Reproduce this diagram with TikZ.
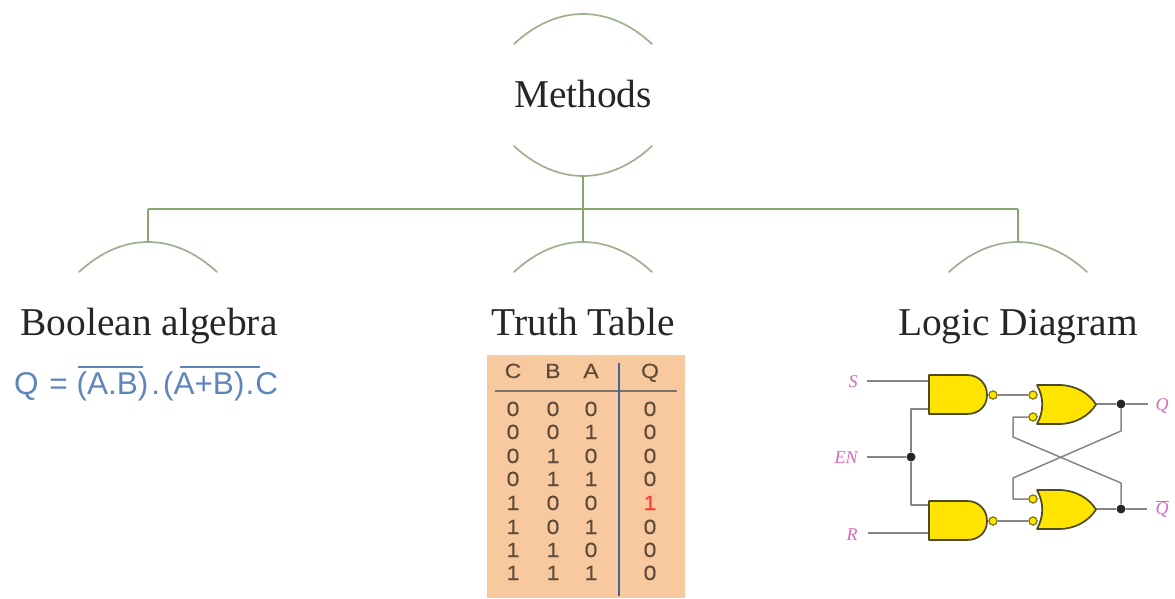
\documentclass[tikz,border=0pt]{standalone}
\usepackage{fontspec}
\setmainfont{Liberation Serif}
\setsansfont{Liberation Sans}
\newfontfamily\widesans[FakeStretch=1.12,FakeBold=0.4]{Liberation Sans}
\definecolor{arcgreen}{HTML}{9DB08F}
\definecolor{treegreen}{HTML}{86A86F}
\definecolor{tablebg}{HTML}{F8C99E}
\definecolor{tabletext}{HTML}{5E4A3A}
\definecolor{tablerule}{HTML}{7D7468}
\definecolor{tableblue}{HTML}{3F62A8}
\definecolor{formulablue}{HTML}{5F86BC}
\definecolor{gateyellow}{HTML}{FFE400}
\definecolor{gateedge}{HTML}{4E4A20}
\definecolor{wiregray}{HTML}{858585}
\definecolor{pinmagenta}{HTML}{D868B8}
\tikzset{
  x=1pt,y=-1pt,
  arcline/.style={draw=arcgreen,line width=1.7pt,line cap=round},
  treeline/.style={draw=treegreen,line width=1.8pt},
  heading/.style={font=\fontsize{39.4}{44}\selectfont,text=black!85,inner sep=0pt,anchor=base},
  cell/.style={font=\widesans\fontsize{20.5}{22}\selectfont,text=tabletext,inner sep=0pt,anchor=base},
  gatebody/.style={fill=gateyellow,draw=gateedge,line width=1.7pt,line join=round},
  bubble/.style={circle,fill=gateyellow,draw=gateedge!70!gateyellow,line width=1.1pt,minimum size=8pt,inner sep=0pt},
  wire/.style={draw=wiregray,line width=1.5pt,line join=round},
  junction/.style={circle,fill=black!85,minimum size=9pt,inner sep=0pt},
  pinlabel/.style={font=\itshape\fontsize{18}{20}\selectfont,text=pinmagenta,inner sep=0pt},
}
\newcommand{\uparc}[1]{\draw[arcline,shift={(#1)}] (-69,30) .. controls (-26,-10) and (26,-10) .. (69,30);}
\newcommand{\nandgate}[2]{\draw[gatebody,shift={(#1,#2)}] (0,0) -- (38,0) .. controls (50,0) and (58,9) .. (58,20) .. controls (58,31) and (50,39) .. (38,39) -- (0,39) -- cycle;}
\newcommand{\orgate}[2]{\draw[gatebody,shift={(#1,#2)}] (0,0) -- (22,0) .. controls (38,0) and (52,8) .. (59,19.5) .. controls (52,31) and (38,39) .. (22,39) -- (0,39) .. controls (7,26) and (7,13) .. cycle;}
\begin{document}
\begin{tikzpicture}
\useasboundingbox (0,0) rectangle (1175,599);
% tree
\coordinate (mtop) at (583,14);
\coordinate (mbot) at (583,175);
\coordinate (lcap) at (148,242);
\coordinate (ccap) at (583,242);
\coordinate (rcap) at (1018,242);
\coordinate (hub) at (583,209);
\coordinate (hubl) at (148,209);
\coordinate (hubr) at (1018,209);
\uparc{mtop}
\uparc{lcap}
\uparc{ccap}
\uparc{rcap}
\draw[arcline] (514,146) .. controls (557,186) and (609,186) .. (652,146);
\draw[treeline] (hubl) -- (hubr);
\draw[treeline] (mbot) -- (ccap);
\draw[treeline] (hubl) -- (lcap);
\draw[treeline] (hubr) -- (rcap);
\node[heading] (methods) at (583,107.5) {Methods};
\node[heading] (boolean) at (149,335) {Boolean algebra};
\node[heading] (truth) at (583,335) {Truth Table};
\node[heading] (logic) at (1018,335) {Logic Diagram};
% formula
\node[anchor=base west,inner sep=0pt,text=formulablue,font=\sffamily\fontsize{31.5}{34}\selectfont] (formula) at (14,394)
  {Q\hspace{2pt} = (A.B)\hspace{3pt}.\hspace{3pt}(A+B)\hspace{1pt}.\hspace{1pt}C};
\draw[draw=formulablue,line width=1.4pt] (78,367) -- (143,367);
\draw[draw=formulablue,line width=1.4pt] (180,367) -- (260,367);
% table
\fill[tablebg] (487,355) rectangle (685,598);
\draw[draw=tablerule,line width=2.2pt] (495,391) -- (677,391);
\draw[draw=tableblue,line width=2.4pt] (619,363) -- (619,596);
\foreach \t/\px in {C/513,B/553,A/591,Q/650} \node[cell] (h\t) at (\px,378) {\t};
\foreach \row/\py/\c/\b/\a/\q in {1/416/0/0/0/0,2/439/0/0/1/0,3/463/0/1/0/0,4/486/0/1/1/0,5/510/1/0/0/1,6/534/1/0/1/0,7/557/1/1/0/0,8/580/1/1/1/0}{
  \node[cell] (c\row) at (513,\py) {\c};
  \node[cell] (b\row) at (553,\py) {\b};
  \node[cell] (a\row) at (591,\py) {\a};
  \ifnum\row=5
    \node[cell,text=red!70!tablebg] (q\row) at (650,\py) {\q};
  \else
    \node[cell] (q\row) at (650,\py) {\q};
  \fi
}
% logic diagram: pins and labels
\node[pinlabel] (S) at (853,382) {S};
\node[pinlabel] (EN) at (846,458) {EN};
\node[pinlabel] (R) at (852,535) {R};
\node[pinlabel] (Q) at (1162,406) {Q};
\node[pinlabel] (Qb) at (1162,509) {$\overline{\hbox{\itshape Q}}$};
\node[junction] (dEN) at (911,457) {};
\node[junction] (dQ) at (1121,404) {};
\node[junction] (dQb) at (1121,509) {};
\coordinate (sout) at (867,381);
\coordinate (enout) at (867,457);
\coordinate (rout) at (868,533);
\coordinate (qin) at (1148,404);
\coordinate (qbin) at (1147,509);
\coordinate (sin) at (929,381);
\coordinate (en1) at (929,409);
\coordinate (en2) at (929,505);
\coordinate (rin) at (929,533);
\coordinate (o1) at (1096,404);
\coordinate (o2) at (1096,509);
\node[bubble] (n1) at (993,395) {};
\node[bubble] (n2) at (993,521) {};
\node[bubble] (i1) at (1033,395) {};
\node[bubble] (i2) at (1033,417) {};
\node[bubble] (i3) at (1033,499) {};
\node[bubble] (i4) at (1033,521) {};
% wires
\draw[wire] (sout) -- (sin);
\draw[wire] (enout) -- (dEN);
\draw[wire] (rout) -- (rin);
\draw[wire] (en1) -| (dEN) |- (en2);
\draw[wire] (n1) -- (i1);
\draw[wire] (n2) -- (i4);
\draw[wire] (o1) -- (dQ) -- (qin);
\draw[wire] (o2) -- (dQb) -- (qbin);
\draw[wire] (dQ) -- (1121,431) -- (1013,478) -- (1013,499) -- (i3);
\draw[wire] (i2) -- (1013,417) -- (1013,437) -- (1121,483) -- (dQb);
% gates
\nandgate{929}{375}
\nandgate{929}{501}
\orgate{1037}{385}
\orgate{1037}{490}
\node[bubble] at (n1) {};
\node[bubble] at (n2) {};
\node[bubble] at (i1) {};
\node[bubble] at (i2) {};
\node[bubble] at (i3) {};
\node[bubble] at (i4) {};
\end{tikzpicture}
\end{document}
